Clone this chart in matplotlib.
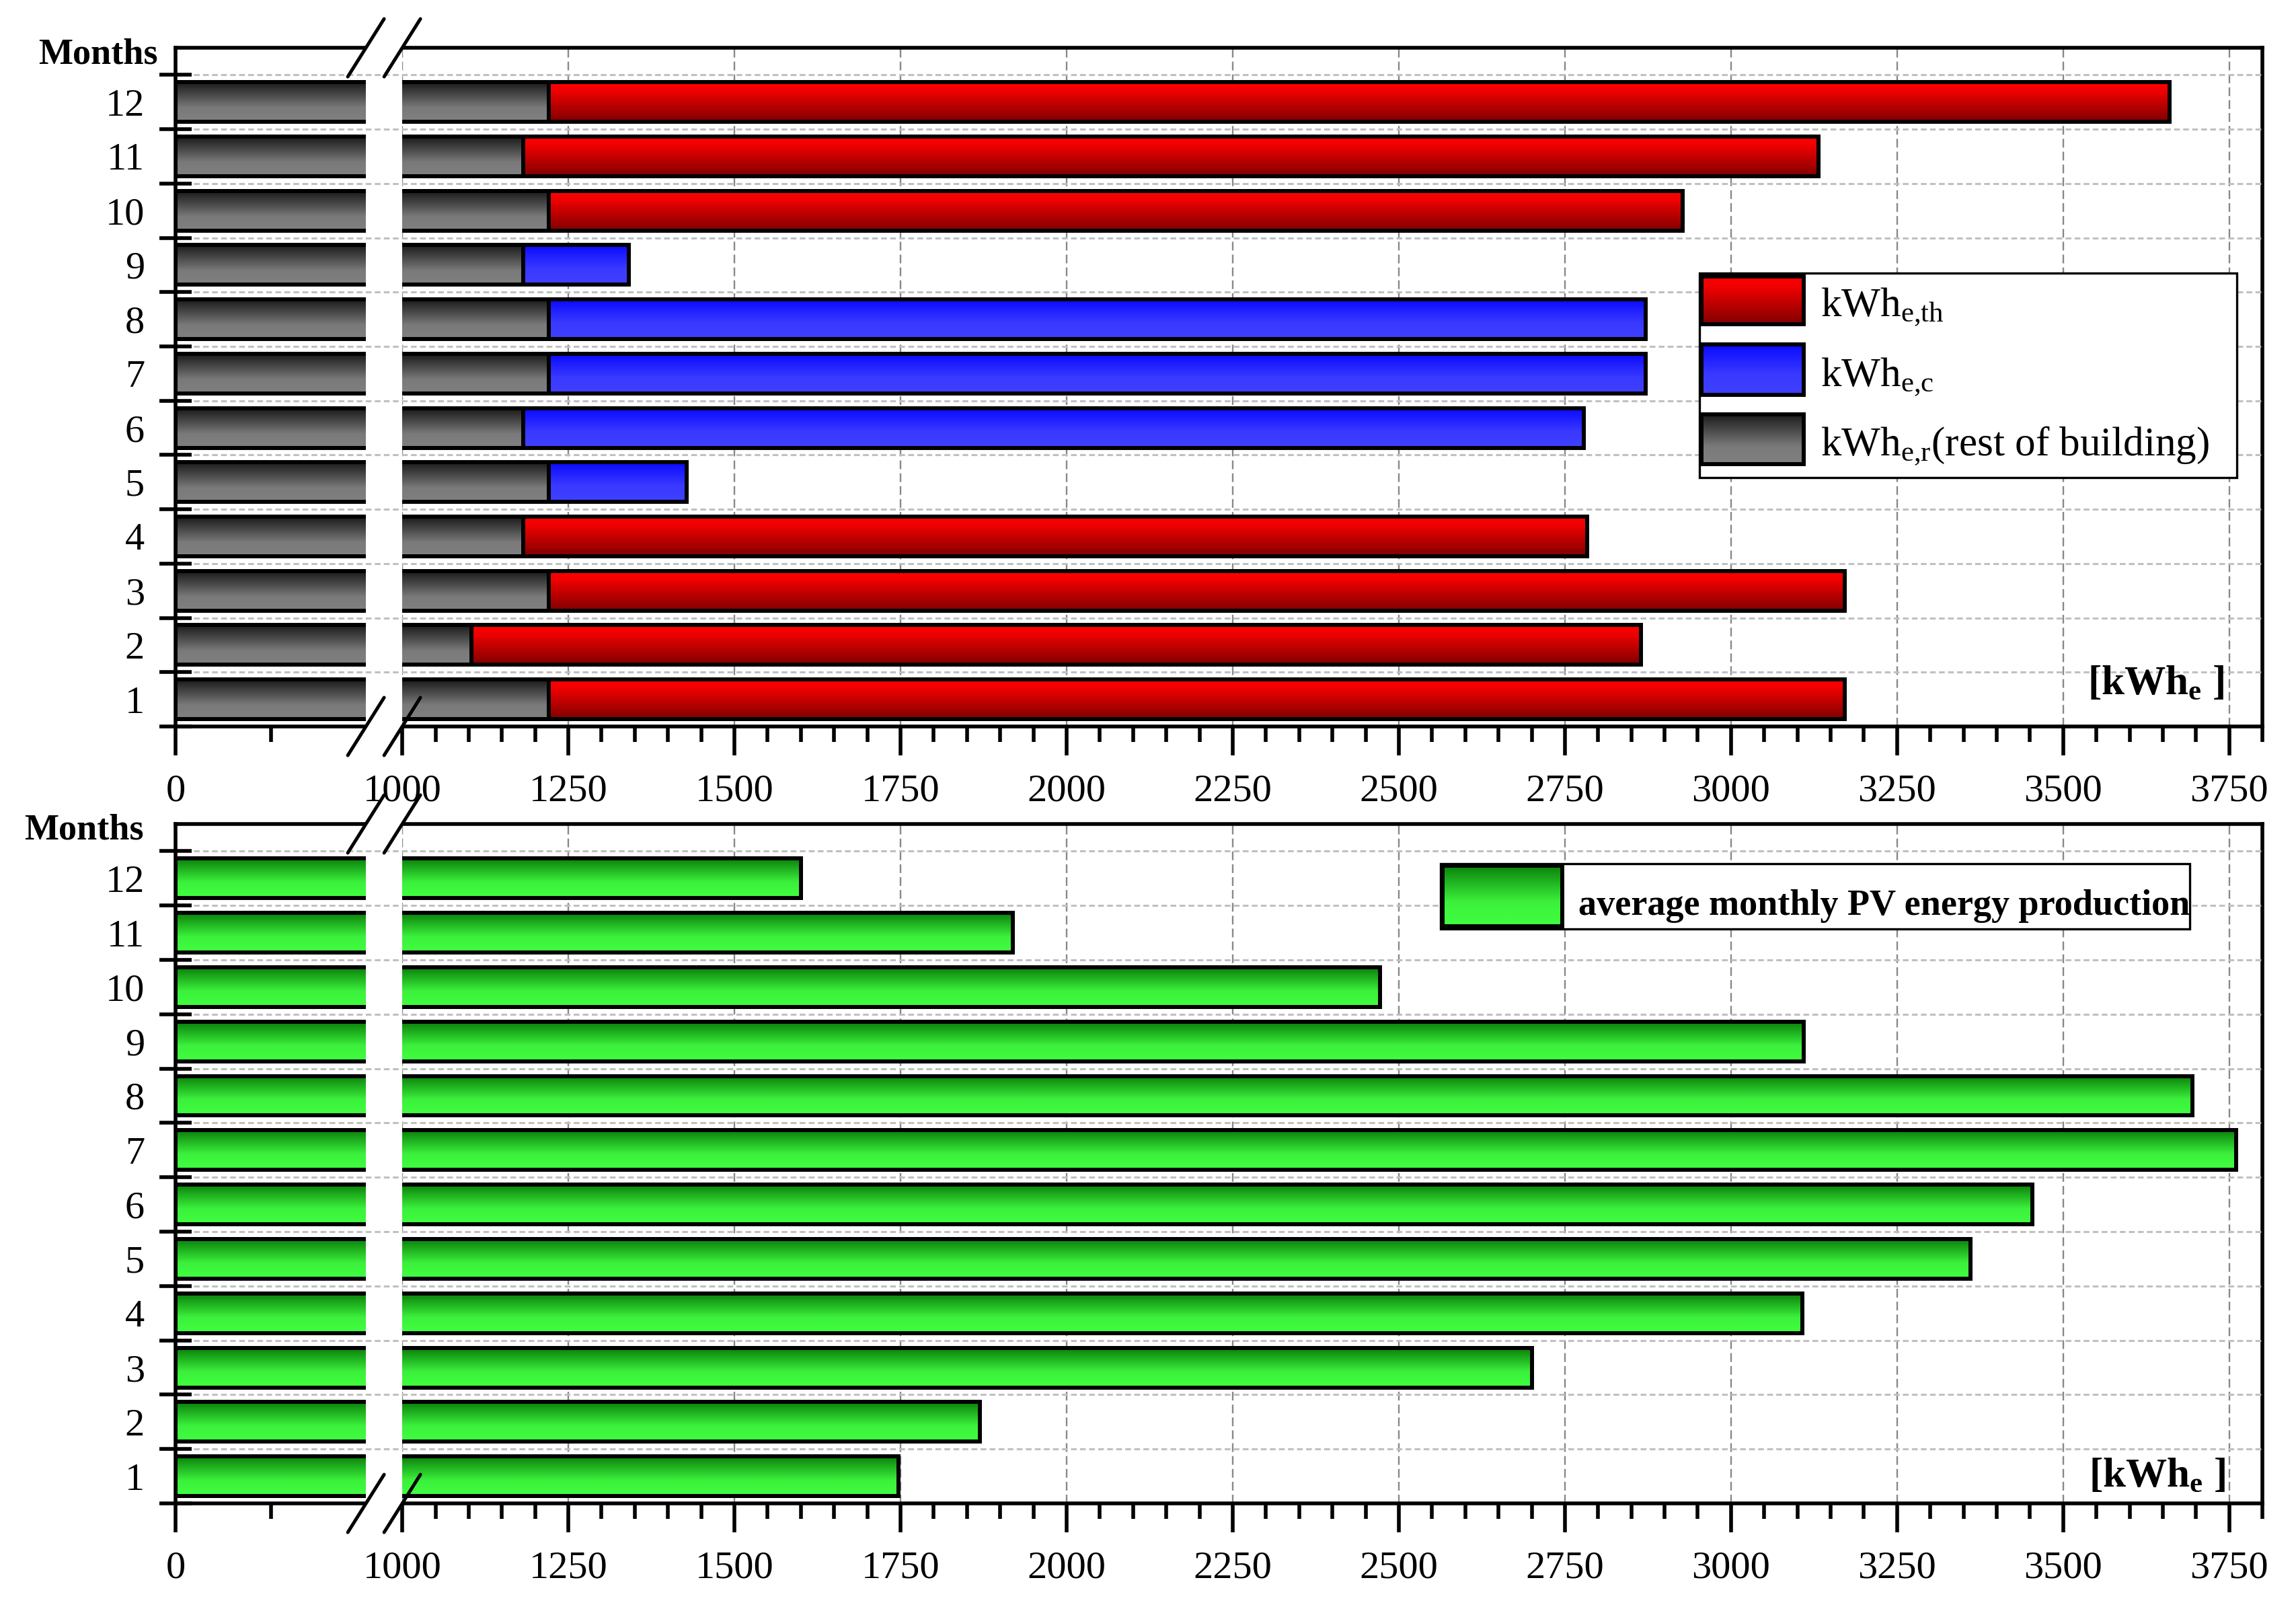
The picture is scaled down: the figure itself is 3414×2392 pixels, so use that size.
import numpy as np
import matplotlib
matplotlib.use('Agg')
import matplotlib.pyplot as plt
from matplotlib.colors import LinearSegmentedColormap
from matplotlib.image import BboxImage
from matplotlib.patches import Rectangle
from matplotlib.transforms import Bbox, TransformedBbox

plt.rcParams['font.family'] = ['Liberation Serif', 'DejaVu Serif']
plt.rcParams['mathtext.fontset'] = 'custom'
plt.rcParams['mathtext.rm'] = 'Liberation Serif'
plt.rcParams['mathtext.bf'] = 'Liberation Serif:bold'
plt.rcParams['mathtext.it'] = 'Liberation Serif:italic'

# monthly electricity use of the building [kWh_e]
months = np.arange(1, 13)
rest = np.array([1221, 1104, 1221, 1182, 1221, 1182, 1221, 1221, 1182, 1221, 1182, 1221])
thermal = np.array([1950, 1760, 1950, 1602, 0, 0, 0, 0, 0, 1706, 1950, 2439])
cooling = np.array([0, 0, 0, 0, 207, 1596, 1651, 1651, 159, 0, 0, 0])

# average monthly PV energy production [kWh_e]
pv = np.array([1747, 1869, 2700, 3107, 3361, 3454, 3760, 3695, 3109, 2472, 1919, 1600])

x_major = [0, 1000, 1250, 1500, 1750, 2000, 2250, 2500, 2750, 3000, 3250, 3500, 3750]
x_minor = [250] + [v for v in range(1050, 3801, 50) if v % 250]

LW = 2.16        # bar edge width
BAR_H = 0.73
BREAK = (500, 1000)


# broken x axis: 0-500 squeezed, 500-1000 is the gap, 1000-3800 normal
def fwd(x):
    x = np.asarray(x, dtype=float)
    return np.where(x <= 500, x * 283 / 500,
                    np.where(x <= 1000, 283 + (x - 500) * 54 / 500,
                             337 + (x - 1000) * 247 / 250))


def inv(p):
    p = np.asarray(p, dtype=float)
    return np.where(p <= 283, p * 500 / 283,
                    np.where(p <= 337, 500 + (p - 283) * 500 / 54,
                             1000 + (p - 337) * 250 / 247))


RED = LinearSegmentedColormap.from_list('r', [(0, '#ff0000'), (0.2, '#f20000'), (1, '#800000')])
BLUE = LinearSegmentedColormap.from_list('b', [(0, '#0a0aff'), (0.6, '#3a3aff'), (1, '#4040ff')])
GRAY = LinearSegmentedColormap.from_list('g', [(0, '#1a1a1a'), (0.65, '#7a7a7a'), (1, '#808080')])
GREEN = LinearSegmentedColormap.from_list('gr', [(0, '#0a800a'), (0.6, '#3cf03c'), (1, '#40ff40')])
GRAD = np.tile(np.linspace(0, 1, 128).reshape(-1, 1), (1, 2))


def gradient(ax, x0, y0, x1, y1, cmap, trans, z):
    im = BboxImage(TransformedBbox(Bbox([[x0, y0], [x1, y1]]), trans),
                   cmap=cmap, interpolation='bilinear', origin='upper')
    im.set_data(GRAD)
    im.set_zorder(z)
    ax.add_artist(im)


def gradient_bars(ax, y, width, left, cmap):
    bars = ax.barh(y, width, height=BAR_H, left=left, facecolor='none',
                   edgecolor='black', linewidth=LW, zorder=3)
    for p in bars:
        gradient(ax, p.get_x(), p.get_y(), p.get_x() + p.get_width(),
                 p.get_y() + p.get_height(), cmap, ax.transData, 2.9)


def legend_box(ax, frame, entries, size, weight):
    x0, y0, x1, y1 = frame
    ax.add_patch(Rectangle((x0, y0), x1 - x0, y1 - y0, transform=ax.transAxes,
                           facecolor='white', edgecolor='black', lw=1.2, zorder=10))
    for (hx0, hy0, hx1, hy1), (tx, ty), cmap, label in entries:
        gradient(ax, hx0, hy0, hx1, hy1, cmap, ax.transAxes, 11)
        ax.add_patch(Rectangle((hx0, hy0), hx1 - hx0, hy1 - hy0, transform=ax.transAxes,
                               facecolor='none', edgecolor='black', lw=LW, zorder=12))
        ax.text(tx, ty, label, transform=ax.transAxes, ha='left', va='baseline',
                fontsize=size, fontweight=weight, zorder=12)


def setup_axes(ax):
    ax.set_xscale('function', functions=(fwd, inv))
    ax.set_xlim(0, 3800)
    ax.set_ylim(0.5, 13.0)
    ax.set_xticks(x_major)
    ax.set_xticklabels([str(v) for v in x_major])
    ax.set_xticks(x_minor, minor=True)
    ax.set_yticks(np.append(months - 0.5, months[-1] + 0.5))
    ax.set_yticklabels([])
    ax.set_yticks(months, minor=True)
    ax.set_yticklabels([str(m) for m in months], minor=True)
    ax.tick_params(axis='x', which='major', direction='out', length=15.5, width=2,
                   pad=10, labelsize=21)
    ax.tick_params(axis='x', which='minor', direction='out', length=8.3, width=2)
    ax.tick_params(axis='y', which='major', direction='inout', length=17, width=2)
    ax.tick_params(axis='y', which='minor', length=0, pad=16.6, labelsize=21)
    for s in ax.spines.values():
        s.set_linewidth(2)

    # grid
    ax.set_axisbelow(True)
    ax.yaxis.set_zorder(6)
    ax.grid(axis='x', which='major', color='#888888', lw=0.85, ls=(0, (5.5, 2.6)))
    for b in months + 0.5:
        ax.axhline(b, color='#c0c0c0', lw=1.1, ls=(0, (2.8, 1.6)), zorder=5)

    # white gap of the axis break
    ax.axvspan(BREAK[0], BREAK[1], ymin=-0.006, ymax=1.006, color='white', lw=0,
               zorder=4, clip_on=False)

    # break marks //
    pos = ax.transAxes.inverted().transform(ax.transData.transform([[BREAK[0], 1], [BREAK[1], 1]]))
    h = ax.get_position().height * fig.get_figheight() * fig.dpi
    dx, dy = 27 / 3103, 43 / h
    for xa in pos[:, 0]:
        for ya in (0, 1):
            ax.plot([xa - dx, xa + dx], [ya - dy, ya + dy], color='black', lw=1.8,
                    solid_capstyle='round', transform=ax.transAxes, clip_on=False, zorder=7)


fig = plt.figure(figsize=(3414 / 200, 2392 / 200), dpi=200)
ax1 = fig.add_axes([0.0765, 0.5485, 0.9089, 0.4218])
ax2 = fig.add_axes([0.0765, 0.0656, 0.9089, 0.4223])

# top: consumption
gradient_bars(ax1, months, rest, 0, GRAY)
th = thermal > 0
gradient_bars(ax1, months[th], thermal[th], rest[th], RED)
co = cooling > 0
gradient_bars(ax1, months[co], cooling[co], rest[co], BLUE)
setup_axes(ax1)

legend_box(ax1, (0.7303, 0.3667, 0.9877, 0.668), [
    ((0.7312, 0.5927, 0.7802, 0.663), (0.7883, 0.6036), RED, r'kWh$_{\rm e{,}th}$'),
    ((0.7312, 0.4886, 0.7802, 0.5629), (0.7883, 0.501), BLUE, r'kWh$_{\rm e{,}c}$'),
    ((0.7312, 0.3865, 0.7802, 0.4599), (0.7883, 0.3984), GRAY,
     r'kWh$_{\rm e{,}r}$(rest of building)'),
], 22, 'normal')
ax1.text(0.9816, 0.0476, r'[kWh$_{\mathbf{e}}$ ]', transform=ax1.transAxes, ha='right',
         va='baseline', fontsize=22, fontweight='bold', zorder=8)

# bottom: PV production
gradient_bars(ax2, months, pv, 0, GREEN)
setup_axes(ax2)

legend_box(ax2, (0.6062, 0.8455, 0.9652, 0.9416), [
    ((0.6071, 0.8495, 0.6645, 0.9386), (0.6722, 0.8663), GREEN,
     'average monthly PV energy production'),
], 19.5, 'bold')
ax2.text(0.9823, 0.0248, r'[kWh$_{\mathbf{e}}$ ]', transform=ax2.transAxes, ha='right',
         va='baseline', fontsize=22, fontweight='bold', zorder=8)

fig.text(0.0688, 0.9603, 'Months', ha='right', va='baseline', fontsize=19.5, fontweight='bold')
fig.text(0.0627, 0.4783, 'Months', ha='right', va='baseline', fontsize=19.5, fontweight='bold')

fig.savefig('out.png', dpi=200)
